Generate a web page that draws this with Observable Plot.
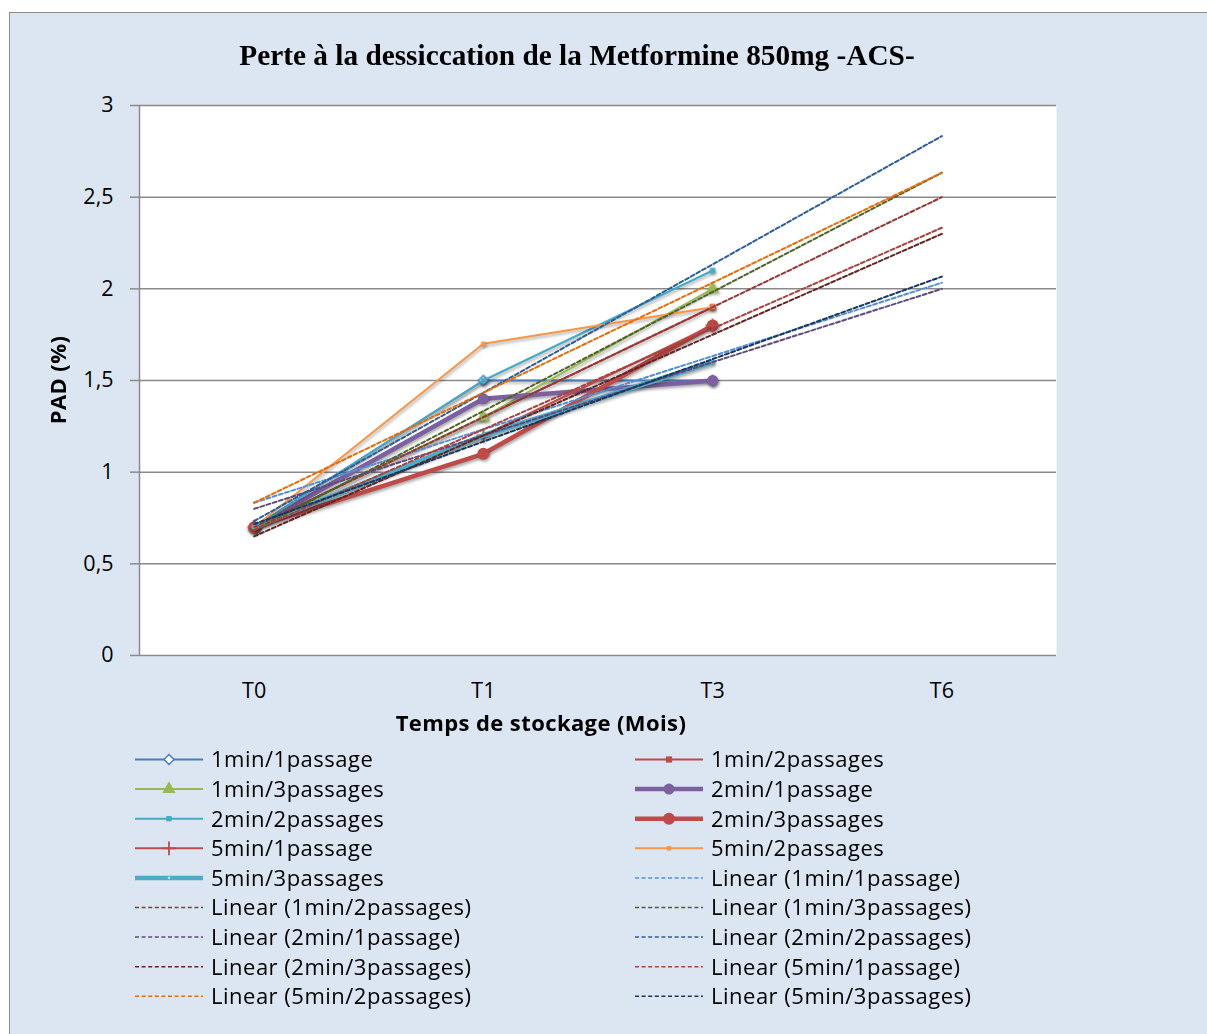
<!DOCTYPE html>
<html><head><meta charset="utf-8">
<script src="https://cdn.jsdelivr.net/npm/d3@7"></script>
<script src="https://cdn.jsdelivr.net/npm/@observablehq/plot@0.6"></script>
<style>
body{margin:0;background:#fff;}
#page{position:relative;width:1207px;height:1034px;overflow:hidden;}
#bg{position:absolute;left:9px;top:12px;width:1220px;height:1040px;background:#DCE6F2;border-left:1.5px solid #8c8c8c;border-top:1.5px solid #8c8c8c;}
#chart{position:absolute;left:0;top:0;}
#overlay{position:absolute;left:0;top:0;}
</style></head><body>
<div id="page"><div id="bg"></div><div id="chart"></div><svg id="overlay" width="1207" height="1034"></svg></div>
<script>
// ---- data ----
const categories = ["T0", "T1", "T3", "T6"];
const yTicks = [0, 0.5, 1, 1.5, 2, 2.5, 3];
const yTickLabels = ["0", "0,5", "1", "1,5", "2", "2,5", "3"];
const seriesNames = ["1min/1passage", "1min/2passages", "1min/3passages", "2min/1passage", "2min/2passages", "2min/3passages", "5min/1passage", "5min/2passages", "5min/3passages"];
const v1min1p = [0.7, 1.5, 1.5];
const v1min2p = [0.7, 1.3, 1.9];
const v1min3p = [0.7, 1.3, 2.0];
const v2min1p = [0.7, 1.4, 1.5];
const v2min2p = [0.7, 1.5, 2.1];
const v2min3p = [0.7, 1.1, 1.8];
const v5min1p = [0.7, 1.2, 1.8];
const v5min2p = [0.7, 1.7, 1.9];
const v5min3p = [0.7, 1.2, 1.6];
const seriesValues = [v1min1p, v1min2p, v1min3p, v2min1p, v2min2p, v2min3p, v5min1p, v5min2p, v5min3p];

// ---- styles ----
const styles = [
  {c: "#4A7EBB", w: 2, sym: "diamond2", r: 4.5, fill: "white", sw: 1.5},
  {c: "#BE4B48", w: 2, sym: "square", r: 3.5},
  {c: "#98B954", w: 2, sym: "triangle", r: 5},
  {c: "#7D60A0", w: 4.5, sym: "circle", r: 5.5},
  {c: "#46AAC5", w: 2, sym: "square", r: 3},
  {c: "#BE4B48", w: 4.5, sym: "circle", r: 6},
  {c: "#BE4B48", w: 2, sym: "plus", r: 4.5, fill: "none", sw: 1.8},
  {c: "#F79646", w: 2, sym: "square", r: 2.5},
  {c: "#4BACC6", w: 5, sym: "circle", r: 1.3, fill: "white", sw: 0.6}
];
const trendColors = ["#558ED5", "#953735", "#4F6228", "#604A7B", "#2C5D98", "#632523", "#A8423F", "#E46C0A", "#17375E"];
const dash = "4,2.5";
const font = "'Open Sans', sans-serif";

function rows(vals) { return vals.map((y, i) => ({x: i + 1, y})); }
function trend(vals) {
  const xs = vals.map((_, i) => i + 1);
  const mx = d3.mean(xs), my = d3.mean(vals);
  const slope = d3.sum(xs, (x, i) => (x - mx) * (vals[i] - my)) / d3.sum(xs, x => (x - mx) ** 2);
  return [1, categories.length].map(x => ({x, y: my + slope * (x - mx)}));
}

const marks = [
  Plot.frame({fill: "white", stroke: null}),
  Plot.ruleY(yTicks.slice(1), {stroke: "#8A8A8A", strokeWidth: 1.5}),
  Plot.ruleY([0], {stroke: "#8A8A8A", strokeWidth: 1.5}),
  Plot.ruleX([0.5], {stroke: "#8A8A8A", strokeWidth: 1.5}),
  Plot.axisY({ticks: yTicks, tickFormat: (d, i) => yTickLabels[i], tickSize: 9, tickPadding: 17, stroke: "#8A8A8A", strokeWidth: 1.5, fill: "#000", fontSize: 21.5, label: null}),
  Plot.axisX({ticks: [1, 2, 3, 4], tickFormat: d => categories[d - 1], tickSize: 0, tickPadding: 27, fill: "#000", fontSize: 21.5, label: null})
];
seriesValues.forEach((vals, i) => {
  const s = styles[i];
  marks.push(Plot.line(rows(vals), {x: "x", y: "y", stroke: s.c, strokeWidth: s.w}));
  marks.push(Plot.dot(rows(vals), {x: "x", y: "y", symbol: s.sym, r: s.r,
    fill: s.fill === undefined ? s.c : s.fill, stroke: (s.fill !== undefined) ? s.c : "none", strokeWidth: s.sw || 1}));
});
seriesValues.forEach((vals, i) => {
  marks.push(Plot.line(trend(vals), {x: "x", y: "y", stroke: trendColors[i], strokeWidth: 2, strokeDasharray: dash}));
});

const chart = Plot.plot({
  width: 1207, height: 740,
  marginLeft: 139, marginRight: 151, marginTop: 105, marginBottom: 85,
  x: {domain: [0.5, 4.5]},
  y: {domain: [0, 3]},
  style: {background: "transparent", fontFamily: font, overflow: "visible"},
  marks
});
document.getElementById("chart").appendChild(chart);
d3.select(chart).selectAll('g[aria-label="line"]').filter(function() { return !this.getAttribute("stroke-dasharray"); })
  .style("filter", "drop-shadow(1.5px 2px 1.5px rgba(0,0,0,0.35))");
d3.select(chart).selectAll('g[aria-label="dot"]').style("filter", "drop-shadow(1.5px 2px 1.5px rgba(0,0,0,0.35))");

// ---- overlay texts & legend ----
const ov = d3.select("#overlay");
ov.append("text").attr("x", 577).attr("y", 65).attr("text-anchor", "middle")
  .style("font-family", "'Liberation Serif', serif").style("font-weight", "bold").style("font-size", "29.3px")
  .text("Perte à la dessiccation de la Metformine 850mg -ACS-");
ov.append("text").attr("x", 541).attr("y", 731).attr("text-anchor", "middle")
  .style("font-family", font).style("font-weight", "bold").style("font-size", "22px").style("letter-spacing", "0.4px")
  .text("Temps de stockage (Mois)");
ov.append("text").attr("transform", "translate(66,380) rotate(-90)").attr("text-anchor", "middle")
  .style("font-family", font).style("font-weight", "bold").style("font-size", "22px").style("letter-spacing", "0.4px")
  .text("PAD (%)");

const items = [];
seriesNames.forEach((n, i) => items.push({label: n, kind: "series", i}));
seriesNames.forEach((n, i) => items.push({label: "Linear (" + n + ")", kind: "trend", i}));
items.forEach((it, k) => {
  const col = k % 2, row = Math.floor(k / 2);
  const x0 = col === 0 ? 135 : 635, x1 = x0 + 68, tx = col === 0 ? 211 : 711;
  const y = 759.5 + row * 29.6;
  const g = ov.append("g");
  if (it.kind === "series") {
    const s = styles[it.i];
    g.append("line").attr("x1", x0).attr("x2", x1).attr("y1", y).attr("y2", y)
      .attr("stroke", s.c).attr("stroke-width", Math.min(s.w, 4.5));
    const symMap = {diamond2: d3.symbolDiamond2, square: d3.symbolSquare, triangle: d3.symbolTriangle, circle: d3.symbolCircle, plus: d3.symbolPlus};
    const size = s.r * s.r * Math.PI;
    g.append("path").attr("transform", `translate(${(x0 + x1) / 2},${y})`)
      .attr("d", d3.symbol(symMap[s.sym], size)())
      .attr("fill", s.fill === undefined ? s.c : s.fill)
      .attr("stroke", s.fill !== undefined ? s.c : "none").attr("stroke-width", s.sw || 1);
  } else {
    g.append("line").attr("x1", x0).attr("x2", x1).attr("y1", y).attr("y2", y)
      .attr("stroke", trendColors[it.i]).attr("stroke-width", 1.5).attr("stroke-dasharray", "4,2.6");
  }
  g.append("text").attr("x", tx).attr("y", y + 7.8)
    .style("font-family", font).style("font-size", "22px").style("letter-spacing", "0.5px").attr("fill", "#000")
    .text(it.label);
});
</script>
</body></html>
